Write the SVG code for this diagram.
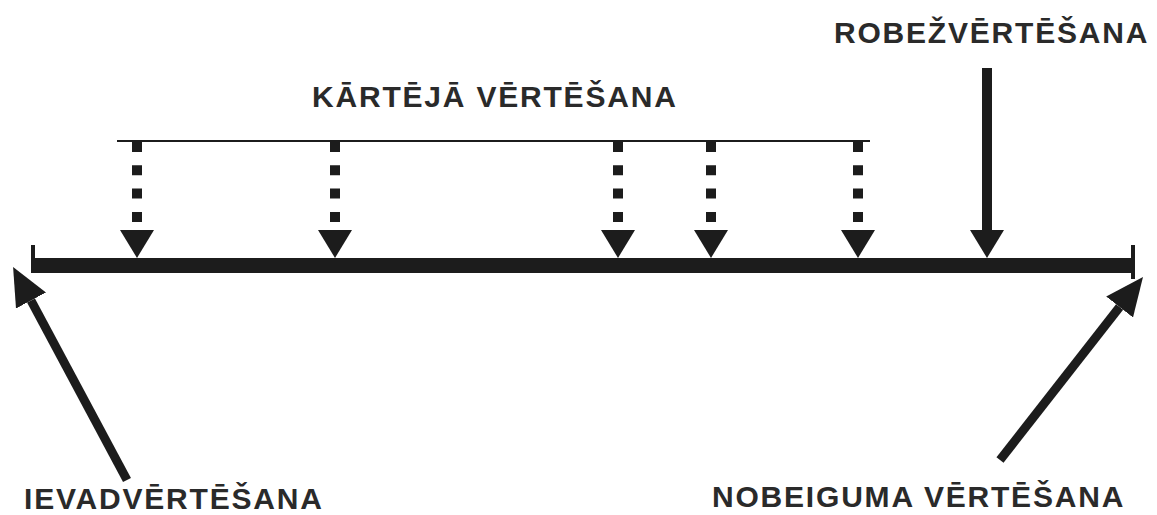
<svg xmlns="http://www.w3.org/2000/svg" width="1157" height="515" viewBox="0 0 1157 515">
  <style>
    .lbl { font-family: "Liberation Sans", Arial, sans-serif; font-size: 30px; font-weight: bold; letter-spacing: 1.8px; fill: #2a2a2a; }
    .dash { stroke: #1c1c1c; stroke-width: 10; stroke-dasharray: 10 13.3; fill: none; }
    .solid { stroke: #1c1c1c; stroke-width: 10; fill: none; }
    .diag { stroke: #1c1c1c; stroke-width: 9; fill: none; stroke-linecap: butt; }
  </style>
  <defs>
    <marker id="head" viewBox="0 0 28 34" refX="0" refY="17" markerWidth="28" markerHeight="34" markerUnits="userSpaceOnUse" orient="auto">
      <path d="M0,0 L28,17 L0,34 z" fill="#1c1c1c"/>
    </marker>
    <marker id="headBig" viewBox="0 0 38 34" refX="0" refY="17" markerWidth="38" markerHeight="34" markerUnits="userSpaceOnUse" orient="auto">
      <path d="M0,0 L38,17 L0,34 z" fill="#1c1c1c"/>
    </marker>
  </defs>
  <rect width="1157" height="515" fill="#ffffff"/>

  <g id="timeline">
    <rect x="33" y="258" width="1100" height="15" fill="#1c1c1c"/>
    <rect x="31" y="245" width="4" height="28" fill="#1c1c1c"/>
    <rect x="1131" y="245" width="4" height="34" fill="#1c1c1c"/>
  </g>

  <g id="kartejaVertesana">
    <text class="lbl" x="312" y="107">KĀRTĒJĀ VĒRTĒŠANA</text>
    <line x1="117" y1="141" x2="870" y2="141" stroke="#1c1c1c" stroke-width="2"/>
  </g>

  <g id="robezvertesana">
    <text class="lbl" x="834" y="43">ROBEŽVĒRTĒŠANA</text>
  </g>

  <g id="ievadvertesana">
    <text class="lbl" x="24" y="509">IEVADVĒRTĒŠANA</text>
  </g>

  <g id="nobeigumaVertesana">
    <text class="lbl" x="712" y="507">NOBEIGUMA VĒRTĒŠANA</text>
  </g>

  <g id="connectors">
    <line class="dash" x1="137" y1="142" x2="137" y2="230" marker-end="url(#head)"/>
    <line class="dash" x1="335" y1="142" x2="335" y2="230" marker-end="url(#head)"/>
    <line class="dash" x1="618" y1="142" x2="618" y2="230" marker-end="url(#head)"/>
    <line class="dash" x1="711" y1="142" x2="711" y2="230" marker-end="url(#head)"/>
    <line class="dash" x1="858" y1="142" x2="858" y2="230" marker-end="url(#head)"/>
    <line class="solid" x1="987" y1="68" x2="987" y2="230" marker-end="url(#head)"/>
    <line class="diag" x1="127" y1="480" x2="31" y2="300.5" marker-end="url(#headBig)"/>
    <line class="diag" x1="1000" y1="460" x2="1119.6" y2="307" marker-end="url(#headBig)"/>
  </g>
</svg>
